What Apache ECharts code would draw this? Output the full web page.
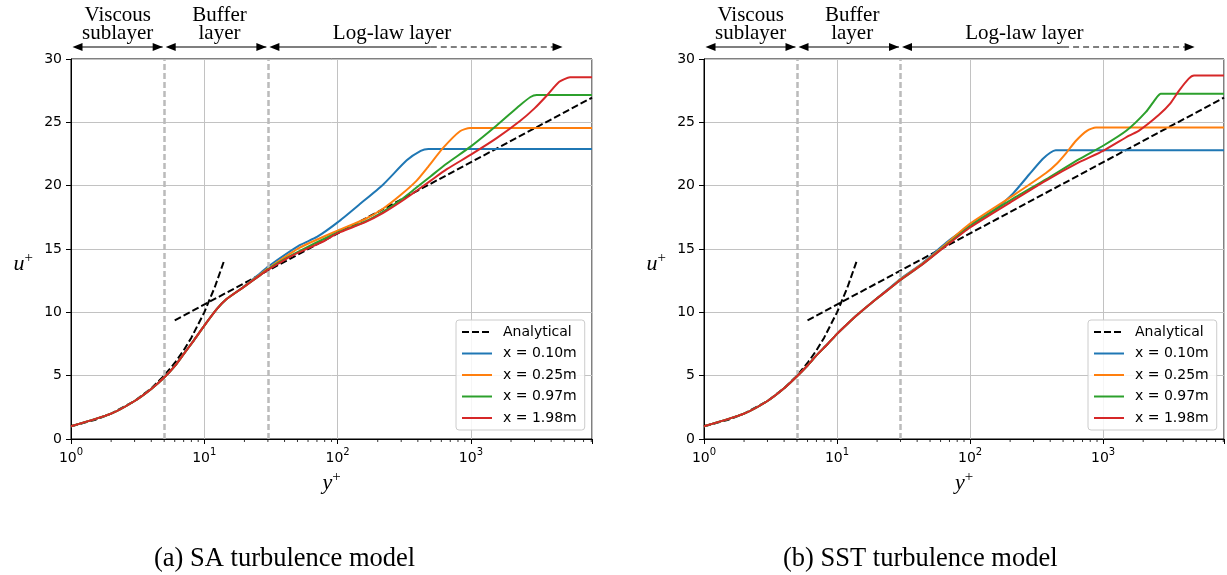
<!DOCTYPE html>
<html>
<head>
<meta charset="utf-8">
<script src="https://cdn.jsdelivr.net/npm/echarts@6/dist/echarts.min.js"></script>
<style>html,body{margin:0;padding:0;background:#fff}#c{width:1227px;height:575px}</style>
</head>
<body>
<div id="c"></div>
<script>
// ---------- data ----------
const seriesNames = ['x = 0.10m', 'x = 0.25m', 'x = 0.97m', 'x = 1.98m'];
const analyticalName = 'Analytical';
const captions = ['(a) SA turbulence model', '(b) SST turbulence model'];
const layerNames = ['Viscous\nsublayer', 'Buffer\nlayer', 'Log-law layer'];
const layerRanges = [[1, 5], [5, 30], [30, 5000]];
const layerSolidEnd = [5, 30, 500];
const layerLabelX = [2.24, 13, 256];
const layerBounds = [5, 30];
const yTicks = [0, 5, 10, 15, 20, 25, 30];
const xMin = 1, xMax = 8100;
const minorTickValues = [2,3,4,5,6,7,8,9,20,30,40,50,60,70,80,90,200,300,400,500,600,700,800,900,2000,3000,4000,5000,6000,7000,8000];

// analytical profiles (y+, u+)
const analyticalViscous = [[1,1],[1.5,1.5],[2,2],[3,3],[4,4],[5,5],[6,6],[7,7],[8,8],[10,10],[12,12],[14,14]];
const analyticalLogLaw = [[6,9.37],[8100,26.95]];

// SA model
const saX010 = [[1,1.0],[2,2.0],[3,3.0],[4,3.95],[5,4.85],[6,5.75],[7,6.7],[8.3,7.75],[10,8.95],[12.4,10.25],[14.7,11.05],[19.6,12.0],[26,13.05],[30,13.6],[52,15.3],[70,15.95],[100,17.1],[147,18.55],[220,20.1],[330,22.0],[420,22.75],[480,22.9],[8100,22.9]];
const saX025 = [[1,1.0],[2,2.0],[3,3.0],[4,3.95],[5,4.85],[6,5.75],[7,6.7],[8.3,7.75],[10,8.95],[12.4,10.25],[14.7,11.05],[19.6,11.98],[26,12.95],[30,13.45],[52,15.1],[100,16.45],[160,17.35],[220,18.2],[300,19.3],[392,20.4],[470,21.4],[621,23.0],[828,24.3],[985,24.55],[8100,24.55]];
const saX097 = [[1,1.0],[2,2.0],[3,3.0],[4,3.95],[5,4.85],[6,5.75],[7,6.7],[8.3,7.75],[10,8.95],[12.4,10.25],[14.7,11.05],[19.6,11.97],[26,12.9],[30,13.4],[46,14.55],[100,16.3],[160,17.15],[220,17.95],[300,18.9],[380,19.75],[500,20.75],[660,21.75],[1000,23.1],[1560,24.75],[2335,26.35],[2800,27.0],[3114,27.15],[8100,27.15]];
const saX198 = [[1,1.0],[2,2.0],[3,3.0],[4,3.95],[5,4.85],[6,5.75],[7,6.7],[8.3,7.75],[10,8.95],[12.4,10.25],[14.7,11.05],[19.6,11.97],[26,12.9],[30,13.35],[46,14.5],[80,15.65],[100,16.25],[160,17.1],[220,17.85],[300,18.75],[380,19.5],[500,20.4],[660,21.3],[1000,22.45],[1560,23.75],[2335,25.1],[3000,26.1],[3700,27.1],[4600,28.2],[5540,28.55],[8100,28.55]];

// SST model
const sstX010 = [[1,1.0],[2,2.0],[3,3.0],[4,4.0],[5,4.95],[6,5.8],[7,6.6],[8.5,7.5],[10,8.3],[12,9.1],[14,9.75],[19.7,11.05],[25,11.95],[30,12.65],[44,13.9],[66,15.5],[100,16.85],[157,18.2],[209,19.35],[279,20.9],[351,22.1],[400,22.6],[440,22.8],[8100,22.8]];
const sstX025 = [[1,1.0],[2,2.0],[3,3.0],[4,4.0],[5,4.95],[6,5.8],[7,6.6],[8.5,7.5],[10,8.3],[12,9.1],[14,9.75],[19.7,11.05],[25,11.9],[30,12.6],[44,13.85],[66,15.4],[100,17.0],[209,19.2],[372,21.0],[450,21.75],[525,22.55],[625,23.55],[760,24.35],[883,24.6],[8100,24.6]];
const sstX097 = [[1,1.0],[2,2.0],[3,3.0],[4,4.0],[5,4.95],[6,5.8],[7,6.6],[8.5,7.5],[10,8.3],[12,9.1],[14,9.75],[19.7,11.05],[25,11.9],[30,12.55],[44,13.8],[66,15.3],[100,16.8],[209,18.95],[372,20.5],[661,22.1],[1000,23.15],[1500,24.35],[2090,25.8],[2500,26.9],[2713,27.25],[8100,27.25]];
const sstX198 = [[1,1.0],[2,2.0],[3,3.0],[4,4.0],[5,4.95],[6,5.8],[7,6.6],[8.5,7.5],[10,8.3],[12,9.1],[14,9.75],[19.7,11.05],[25,11.9],[30,12.55],[44,13.8],[66,15.25],[100,16.7],[209,18.8],[372,20.4],[661,21.85],[1000,22.75],[1567,23.95],[1862,24.35],[2630,25.6],[3200,26.5],[3720,27.5],[4400,28.45],[4820,28.7],[8100,28.7]];

const panels = [
  { caption: captions[0], curves: [saX010, saX025, saX097, saX198] },
  { caption: captions[1], curves: [sstX010, sstX025, sstX097, sstX198] }
];

// ---------- styling / layout ----------
const colors = ['#1f77b4', '#ff7f0e', '#2ca02c', '#d62728'];
const gridLeft = [71, 704];
const gridTop = 59, gridW = 521, gridH = 380;
const gridColor = '#c2c2c2';
const tickFont = 'DejaVu Sans';
const serif = 'Liberation Serif';

function xLabelFmt(v) {
  const e = Math.round(Math.log10(v));
  if (Math.abs(v - Math.pow(10, e)) < 1e-6 * Math.pow(10, e)) return '{b|10}{s|' + e + '}';
  return '';
}

function minorTickRender(params, api) {
  const p = api.coord([api.value(0), api.value(1)]);
  return { type: 'line', shape: { x1: p[0], y1: p[1], x2: p[0], y2: p[1] + 3 }, style: { stroke: '#000', lineWidth: 0.8 } };
}

function layerRender(params, api) {
  const i = api.value(2);
  const top = api.coord([1, 30])[1];
  const y = top - 12;
  const x0 = api.coord([api.value(0), 30])[0] + 1.5;
  const x1 = api.coord([api.value(1), 30])[0] - 1.5;
  const xs = api.coord([api.value(3), 30])[0] - (i < 2 ? 1.5 : 0);
  const xl = api.coord([api.value(4), 30])[0];
  const head = (x, dir) => ({ type: 'polygon', shape: { points: [[x, y], [x - dir * 10, y - 4], [x - dir * 10, y + 4]] }, style: { fill: '#000' } });
  const children = [
    { type: 'line', shape: { x1: x0 + 4, y1: y, x2: xs, y2: y }, style: { stroke: '#000', lineWidth: 1.2 } },
    head(x0, -1)
  ];
  if (xs < x1 - 1) {
    children.push({ type: 'line', shape: { x1: xs, y1: y, x2: x1 - 4, y2: y }, style: { stroke: '#000', lineWidth: 1.2, lineDash: [6, 4] } });
  }
  children.push(head(x1, 1));
  children.push({ type: 'text', x: xl, y: y - 5, style: { text: layerNames[i], fontFamily: serif, fontSize: 21, fill: '#000', align: 'center', verticalAlign: 'bottom', lineHeight: 18 } });
  return { type: 'group', children };
}

const option = {
  animation: false,
  backgroundColor: '#fff',
  title: panels.map((p, k) => ({
    text: p.caption, left: k === 0 ? 149 : 778, top: 541,
    textStyle: { fontFamily: serif, fontSize: 26.5, fontWeight: 'normal', color: '#000' }
  })),
  legend: panels.map((p, k) => ({
    data: [analyticalName].concat(seriesNames),
    orient: 'vertical', left: k === 0 ? 456 : 1088, top: 320,
    itemWidth: 30, itemHeight: 14, itemGap: 7.5,
    padding: [5, 8, 5, 5],
    backgroundColor: 'rgba(255,255,255,0.85)', borderColor: '#cccccc', borderWidth: 1, borderRadius: 3,
    itemStyle: { opacity: 0 },
    textStyle: { fontFamily: tickFont, fontSize: 14, color: '#000', padding: [0, 0, 0, 6] },
    selectedMode: false
  })),
  grid: gridLeft.map(l => ({ left: l, top: gridTop, width: gridW, height: gridH, show: true, borderColor: '#000', borderWidth: 1, backgroundColor: 'transparent' })),
  xAxis: gridLeft.map((l, k) => ({
    type: 'log', logBase: 10, min: xMin, max: xMax, gridIndex: k,
    name: '{i|y}{s|+}', nameLocation: 'middle', nameGap: 26,
    nameTextStyle: { rich: {
      i: { fontFamily: serif, fontStyle: 'italic', fontSize: 22, lineHeight: 24, verticalAlign: 'bottom' },
      s: { fontFamily: serif, fontSize: 15, lineHeight: 14, verticalAlign: 'top' } } },
    axisLine: { show: true, lineStyle: { color: '#000', width: 1 } },
    axisTick: { show: true, inside: false, length: 5, lineStyle: { color: '#000' } },
    axisLabel: { formatter: xLabelFmt, margin: 8, color: '#000', showMinLabel: true, showMaxLabel: true,
      rich: { b: { fontFamily: tickFont, fontSize: 14, lineHeight: 18, verticalAlign: 'bottom', color: '#000' },
              s: { fontFamily: tickFont, fontSize: 10, lineHeight: 12, verticalAlign: 'top', color: '#000' } } },
    splitLine: { show: true, lineStyle: { color: gridColor, width: 1 } },
    minorTick: { show: false }
  })),
  yAxis: gridLeft.map((l, k) => ({
    type: 'value', min: 0, max: 30, interval: 5, gridIndex: k,
    name: '{i|u}{s|+}', nameLocation: 'middle', nameRotate: 0, nameGap: 38,
    nameTextStyle: { padding: [28, 0, 0, 0], rich: {
      i: { fontFamily: serif, fontStyle: 'italic', fontSize: 22, lineHeight: 24, verticalAlign: 'bottom' },
      s: { fontFamily: serif, fontSize: 15, lineHeight: 14, verticalAlign: 'top' } } },
    axisLine: { show: true, lineStyle: { color: '#000', width: 1 } },
    axisTick: { show: true, inside: false, length: 5, lineStyle: { color: '#000' } },
    axisLabel: { fontFamily: tickFont, fontSize: 14, color: '#000', margin: 9 },
    splitLine: { show: true, lineStyle: { color: gridColor, width: 1 } }
  })),
  series: []
};

panels.forEach((p, k) => {
  [analyticalViscous, analyticalLogLaw].forEach(d => option.series.push({
    name: analyticalName, type: 'line', xAxisIndex: k, yAxisIndex: k, data: d,
    showSymbol: false, symbol: 'none', z: 2,
    lineStyle: { color: '#000', width: 2, type: [7, 3] }, itemStyle: { color: '#000' }
  }));
  p.curves.forEach((d, j) => option.series.push({
    name: seriesNames[j], type: 'line', xAxisIndex: k, yAxisIndex: k, data: d,
    showSymbol: false, symbol: 'none', smooth: 0.2, z: 3 + j,
    lineStyle: { color: colors[j], width: 2 }, itemStyle: { color: colors[j] }
  }));
  option.series.push({
    name: 'layer bounds', type: 'line', xAxisIndex: k, yAxisIndex: k, data: [], z: 10, silent: true,
    markLine: { silent: true, symbol: ['none', 'none'], label: { show: false },
      lineStyle: { color: '#bbbbbb', width: 2.5, type: [6, 3] },
      data: layerBounds.map(b => ({ xAxis: b })) }
  });
  option.series.push({
    name: 'minor ticks', type: 'custom', xAxisIndex: k, yAxisIndex: k, clip: false, silent: true, z: 10,
    renderItem: minorTickRender, data: minorTickValues.map(v => [v, 0])
  });
  option.series.push({
    name: 'layers', type: 'custom', xAxisIndex: k, yAxisIndex: k, clip: false, silent: true, z: 10,
    renderItem: layerRender,
    data: layerRanges.map((r, i) => [r[0], r[1], i, layerSolidEnd[i], layerLabelX[i]])
  });
});

const chart = echarts.init(document.getElementById('c'), null, { renderer: 'canvas' });
chart.setOption(option);
</script>
</body>
</html>
